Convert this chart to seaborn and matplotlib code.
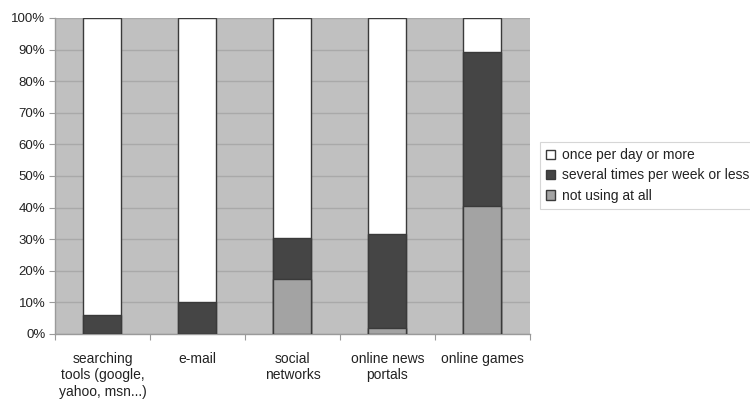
import matplotlib
matplotlib.use("Agg")
import matplotlib.pyplot as plt
from matplotlib.patches import Patch
from matplotlib.ticker import MultipleLocator, PercentFormatter
import seaborn as sns
import pandas as pd

categories = ["searching\ntools (google,\nyahoo, msn...)", "e-mail", "social\nnetworks",
              "online news\nportals", "online games"]
not_using = [0.0, 0.0, 17.3, 1.8, 40.6]
several_times = [6.0, 10.0, 13.2, 29.8, 48.7]
once_per_day = [94.0, 90.0, 69.5, 68.4, 10.7]

series_labels = ["once per day or more", "several times per week or less", "not using at all"]
colors = {"once": "#ffffff", "several": "#454545", "not": "#a3a3a3"}

df = pd.DataFrame({
    "category": categories,
    "not": not_using,
    "several": several_times,
    "once": once_per_day,
})
df["cum_not"] = df["not"]
df["cum_several"] = df["not"] + df["several"]
df["cum_once"] = df["cum_several"] + df["once"]

sns.set_theme(style="white")
plt.rcParams["font.family"] = ["Liberation Sans", "DejaVu Sans"]

fig = plt.figure(figsize=(7.5, 3.99), dpi=100)
ax = fig.add_axes([0.0733, 0.163, 0.6333, 0.792])
ax.set_facecolor("#c0c0c0")

edge = "#3a3a3a"
# stacked bars: draw cumulative totals from tallest to shortest
for col, key in [("cum_once", "once"), ("cum_several", "several"), ("cum_not", "not")]:
    sns.barplot(data=df, x="category", y=col, color=colors[key], saturation=1,
                width=0.4, edgecolor=edge, linewidth=1.0, ax=ax, zorder=3)

ax.set_ylim(0, 100)
ax.set_xlim(-0.5, len(categories) - 0.5)
ax.yaxis.set_major_locator(MultipleLocator(10))
ax.yaxis.set_major_formatter(PercentFormatter(decimals=0))
ax.grid(axis="y", color="#a9a9a9", linewidth=1.0, zorder=0)
ax.set_axisbelow(True)
ax.set_xlabel("")
ax.set_ylabel("")

for s in ["top", "right"]:
    ax.spines[s].set_visible(False)
ax.spines["left"].set_color("#9a9a9a")
ax.spines["bottom"].set_color("#9a9a9a")
ax.spines["left"].set_linewidth(1.0)
ax.spines["bottom"].set_linewidth(1.0)

ax.tick_params(axis="y", labelsize=9.5, colors="#222222", length=4, width=0.8,
               color="#9a9a9a", pad=3, left=True)
ax.tick_params(axis="x", which="major", labelsize=10, colors="#222222", length=0, pad=13)
ax.set_xticks(range(len(categories)))
ax.set_xticklabels(categories, linespacing=1.22)
ax.set_xticks([i + 0.5 for i in range(-1, len(categories))], minor=True)
ax.tick_params(axis="x", which="minor", length=4, width=0.8, color="#9a9a9a", bottom=True)

handles = [Patch(facecolor=colors["once"], edgecolor=edge, label=series_labels[0]),
           Patch(facecolor=colors["several"], edgecolor=edge, label=series_labels[1]),
           Patch(facecolor=colors["not"], edgecolor=edge, label=series_labels[2])]
leg = fig.legend(handles=handles, loc="upper left", bbox_to_anchor=(0.72, 1 - 142 / 399),
                 fontsize=10, frameon=True, fancybox=False, handlelength=0.65,
                 handleheight=0.65, handletextpad=0.45, labelspacing=0.45,
                 borderpad=0.45, borderaxespad=0, edgecolor="#cccccc")
leg.get_frame().set_linewidth(0.8)
for t in leg.get_texts():
    t.set_color("#222222")

fig.savefig("out.png", dpi=100, facecolor="white")
